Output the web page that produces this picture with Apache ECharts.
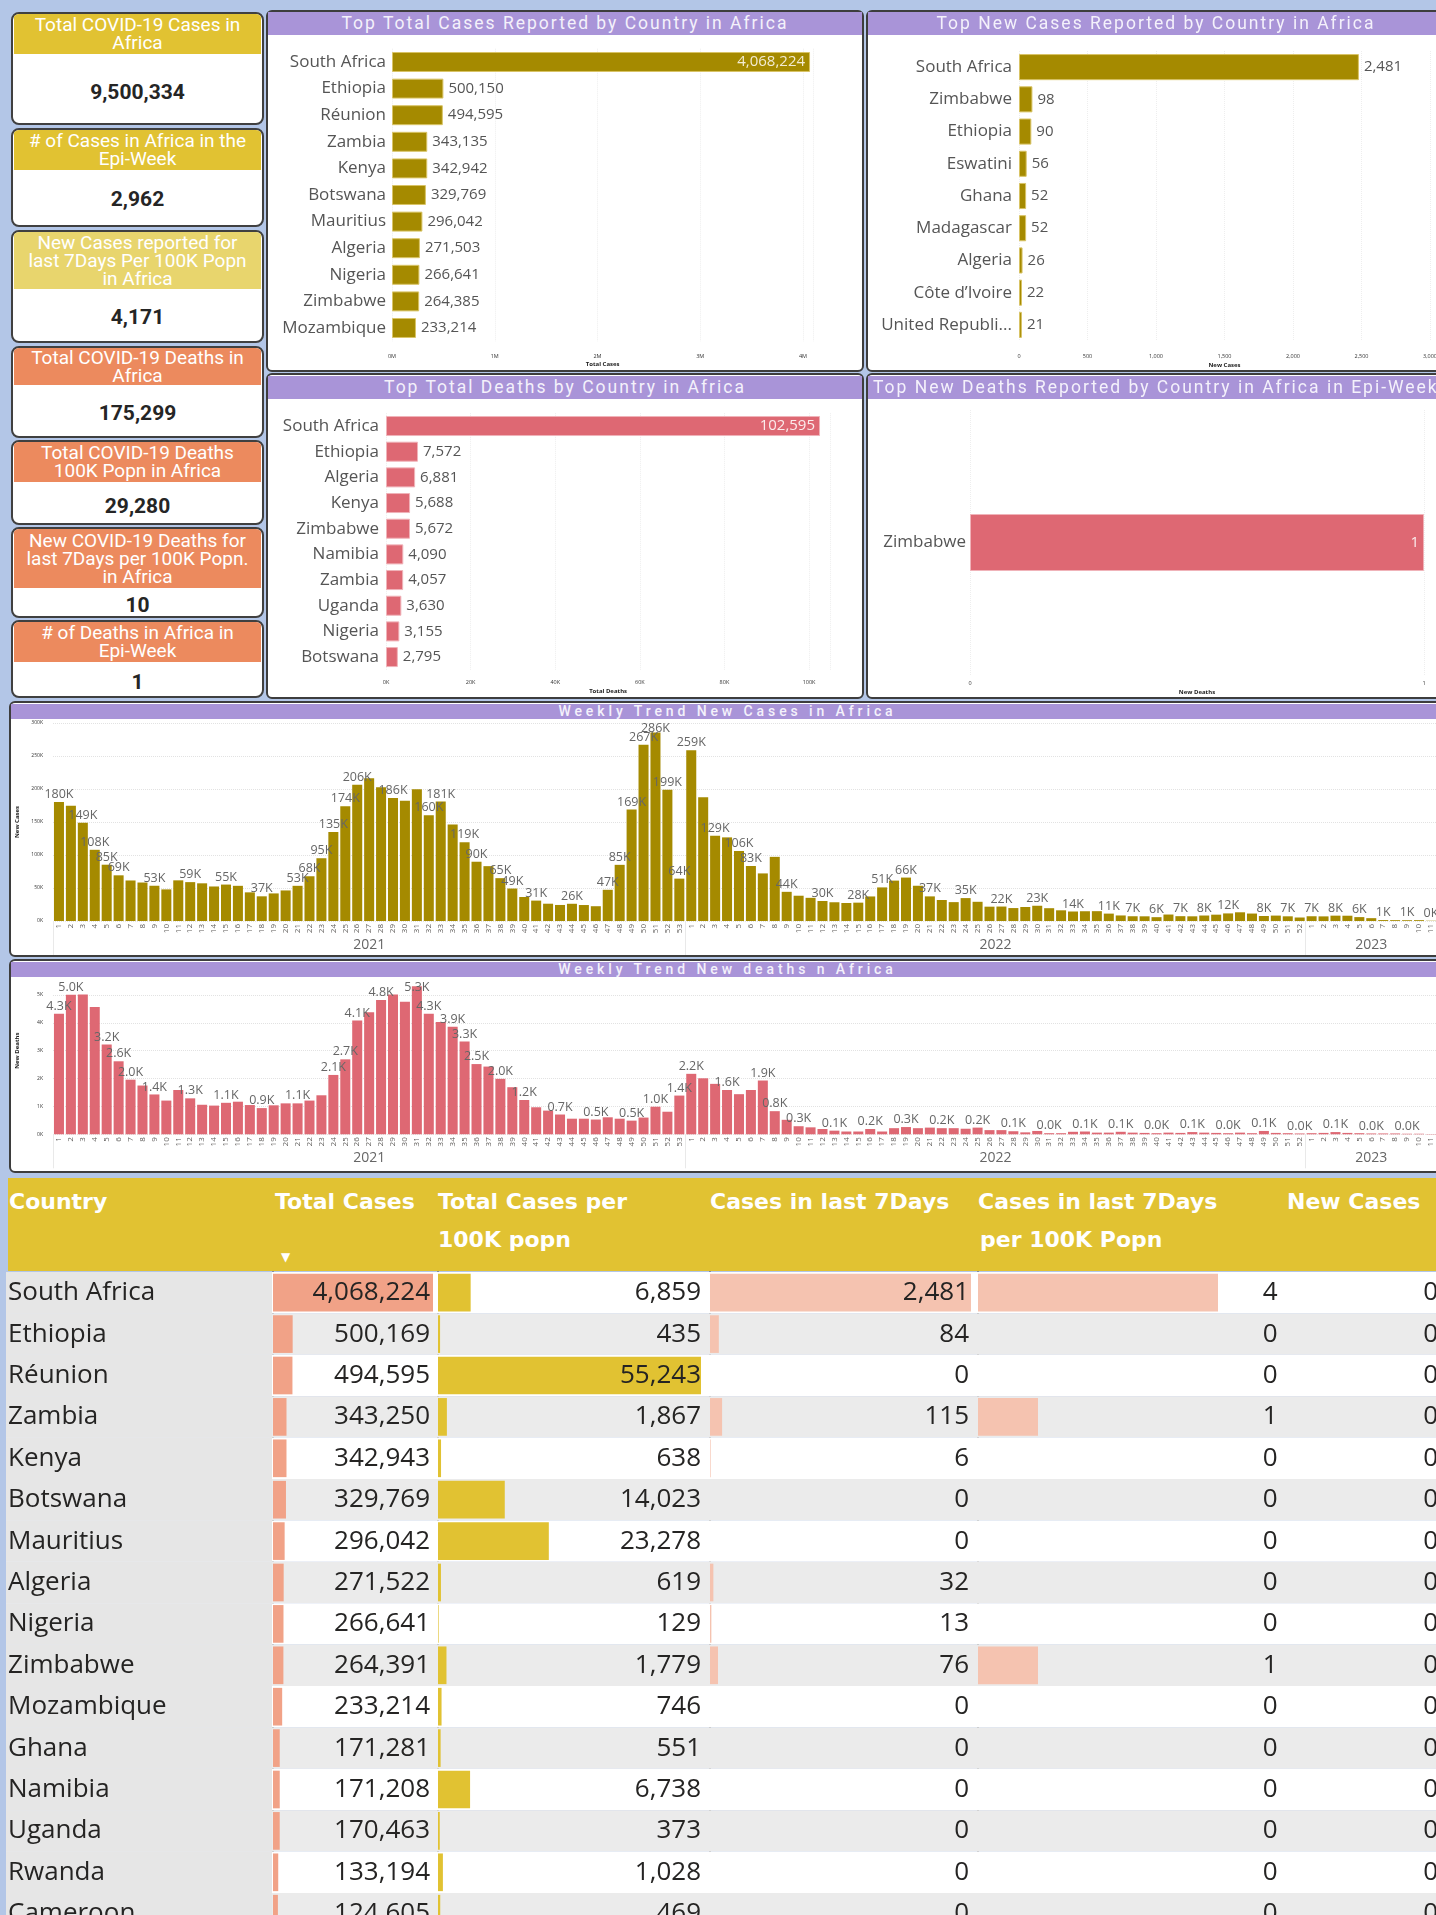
<!DOCTYPE html>
<html>
<head>
<meta charset="utf-8">
<script src="https://cdn.jsdelivr.net/npm/echarts@6.0.0/dist/echarts.min.js"></script>
<style>
  html, body { margin:0; padding:0; }
  body { width:1436px; height:1915px; overflow:hidden; background:#b3c6e7; position:relative; font-family:'Open Sans', sans-serif; }
  .panel { position:absolute; background:#fff; border:2px solid #3d3d3d; border-radius:6px; box-sizing:border-box; z-index:1; }
  .tbar { position:absolute; background:#a994d8; color:#f4f1fb; text-align:center; white-space:nowrap; overflow:hidden; z-index:6; font-family:Roboto, sans-serif; }
  .card { position:absolute; left:11px; width:253px; background:#fff; border:2px solid #404040; border-radius:8px; box-sizing:border-box; overflow:hidden; z-index:1; }
  .card .hd { position:absolute; left:1px; right:1px; top:0; display:flex; align-items:center; justify-content:center; text-align:center; color:#fff; font-family:Roboto, sans-serif; font-size:19px; line-height:18px; }
  .card .val { position:absolute; left:0; right:0; text-align:center; font-family:Roboto, sans-serif; font-weight:bold; font-size:21px; color:#252525; line-height:24px; }
  #chart { position:absolute; left:0; top:0; width:1450px; height:1915px; z-index:3; }
  #thead { position:absolute; left:8px; top:1178px; width:1440px; height:93px; background:#e1c232; z-index:6; }
  #thead span { position:absolute; color:#fff; font-family:'DejaVu Sans', sans-serif; font-weight:bold; font-size:22px; white-space:nowrap; line-height:26px; }
</style>
</head>
<body>
<div class="panel" style="left:266px;top:10px;width:598px;height:362px"></div>
<div class="panel" style="left:866px;top:10px;width:590px;height:362px"></div>
<div class="panel" style="left:266px;top:373px;width:598px;height:326px"></div>
<div class="panel" style="left:866px;top:373px;width:590px;height:326px"></div>
<div class="panel" style="left:9px;top:701px;width:1450px;height:256px"></div>
<div class="panel" style="left:9px;top:959px;width:1450px;height:214px"></div>

<div class="tbar" style="left:268px;top:12px;width:594px;height:23px;line-height:23px;font-size:17.5px;letter-spacing:2px">Top Total Cases Reported by Country in Africa</div>
<div class="tbar" style="left:868px;top:12px;width:576px;height:23px;line-height:23px;font-size:17.5px;letter-spacing:2px">Top New Cases Reported by Country in Africa</div>
<div class="tbar" style="left:268px;top:376px;width:594px;height:23px;line-height:23px;font-size:17.5px;letter-spacing:2px">Top Total Deaths by Country in Africa</div>
<div class="tbar" style="left:868px;top:376px;width:576px;height:23px;line-height:23px;font-size:17.5px;letter-spacing:2px;text-align:left;padding-left:5px;box-sizing:border-box">Top New Deaths Reported by Country in Africa in Epi-Week</div>
<div class="tbar" style="left:11px;top:704px;width:1433px;height:15px;line-height:15px;font-size:14px;font-weight:500;letter-spacing:3.9px">Weekly Trend New Cases in Africa</div>
<div class="tbar" style="left:11px;top:962px;width:1433px;height:15px;line-height:15px;font-size:14px;font-weight:500;letter-spacing:3.9px">Weekly Trend New deaths n Africa</div>

<div id="thead">
  <span style="left:1px;top:11px">Country</span>
  <span style="left:267px;top:11px">Total Cases</span>
  <span style="left:430px;top:11px">Total Cases per</span>
  <span style="left:430px;top:49px">100K popn</span>
  <span style="left:702px;top:11px">Cases in last 7Days</span>
  <span style="left:970px;top:11px">Cases in last 7Days</span>
  <span style="left:972px;top:49px">per 100K Popn</span>
  <span style="left:1279px;top:11px">New Cases</span>
  <span style="left:273px;top:72px;font-size:12px;line-height:14px">&#9660;</span>
</div>

<div id="chart"></div>

<script>
// ---------------- DATA ----------------
const kpiTitles = [
  'Total COVID-19 Cases in|Africa',
  '# of Cases in Africa in the|Epi-Week',
  'New Cases reported for|last 7Days Per 100K Popn|in Africa',
  'Total COVID-19 Deaths in|Africa',
  'Total COVID-19 Deaths|100K Popn in Africa',
  'New COVID-19 Deaths for|last 7Days per 100K Popn.|in Africa',
  '# of Deaths in Africa in|Epi-Week'
];
const kpiValues = [9500334, 2962, 4171, 175299, 29280, 10, 1];

const tcCountries = ['South Africa','Ethiopia','Réunion','Zambia','Kenya','Botswana','Mauritius','Algeria','Nigeria','Zimbabwe','Mozambique'];
const tcValues = [4068224, 500150, 494595, 343135, 342942, 329769, 296042, 271503, 266641, 264385, 233214];

const ncCountries = ['South Africa','Zimbabwe','Ethiopia','Eswatini','Ghana','Madagascar','Algeria','Côte d’Ivoire','United Republic of Tanzania'];
const ncValues = [2481, 98, 90, 56, 52, 52, 26, 22, 21];

const tdCountries = ['South Africa','Ethiopia','Algeria','Kenya','Zimbabwe','Namibia','Zambia','Uganda','Nigeria','Botswana'];
const tdValues = [102595, 7572, 6881, 5688, 5672, 4090, 4057, 3630, 3155, 2795];

const ndCountries = ['Zimbabwe'];
const ndValues = [1];

const weekYears = [2021, 2022, 2023];
const weekCounts = [53, 52, 11];

const weeklyCases2021 = [180200,174500,148900,107900,85300,69200,61400,58300,53400,47900,
  61600,58900,57100,52300,55200,53300,43400,37400,41800,46300,
  53300,67800,95100,134800,173900,206300,216400,202500,186200,182300,
  199500,160400,180900,146200,119300,89800,83100,64900,49200,36400,
  30900,26200,24300,26100,24200,22400,47300,85100,168800,266900,
  285700,198800,64200];
const weeklyCases2022 = [258900,187400,129200,126700,106100,83300,72100,97200,44200,38300,
  35100,30300,28400,27300,27800,37200,50900,61200,65800,53400,
  37300,31800,28600,34700,29100,21700,21900,19600,21200,23100,
  19400,16200,14400,14800,14900,11200,8400,7200,7100,5800,
  9800,7300,7100,8300,9600,11500,13200,11300,7600,8200,
  7100,5300];
const weeklyCases2023 = [7200,7000,8100,8000,5900,4300,1400,1300,1200,1300,400];

const weeklyDeaths2021 = [4330,5010,5020,4570,3220,2620,1960,1750,1430,1210,
  1590,1290,1060,1030,1130,1170,1050,940,1040,1110,
  1110,1210,1400,2130,2690,4080,4380,4820,5020,4760,
  5310,4330,4030,3860,3330,2520,2430,1990,1690,1230,
  970,850,710,560,560,530,610,560,490,600,
  990,810,1390];
const weeklyDeaths2022 = [2170,2010,1810,1590,1440,1590,1930,830,520,290,
  250,190,130,100,100,190,100,220,260,220,
  240,220,220,200,240,150,150,110,70,120,
  40,40,90,100,60,60,90,60,50,40,
  60,50,80,60,50,40,60,40,120,50,
  40,30];
const weeklyDeaths2023 = [40,50,80,50,40,30,30,30,20,20,10];

// weeks (per year) whose data label is shown
const casesLabelWeeks = [
  [1,3,4,5,6,9,12,15,18,21,22,23,24,25,26,29,32,33,35,36,38,39,41,44,47,48,49,50,51,52,53],
  [1,3,5,6,9,12,15,17,19,21,24,27,30,33,36,38,40,42,44,46,49,51],
  [1,3,5,7,9,11]
];
const deathsLabelWeeks = [
  [1,2,5,6,7,9,12,15,18,21,24,25,26,28,31,32,34,35,36,38,40,43,46,49,51,53],
  [1,4,7,8,10,13,16,19,22,25,28,31,34,37,40,43,46,49,52],
  [3,6,9]
];

const tblCountries = ['South Africa','Ethiopia','Réunion','Zambia','Kenya','Botswana','Mauritius','Algeria','Nigeria','Zimbabwe','Mozambique','Ghana','Namibia','Uganda','Rwanda','Cameroon'];
const tblTotalCases = [4068224,500169,494595,343250,342943,329769,296042,271522,266641,264391,233214,171281,171208,170463,133194,124605];
const tblCasesPer100K = [6859,435,55243,1867,638,14023,23278,619,129,1779,746,551,6738,373,1028,469];
const tblCases7d = [2481,84,0,115,6,0,0,32,13,76,0,0,0,0,0,0];
const tblCases7dPer100K = [4,0,0,1,0,0,0,0,0,1,0,0,0,0,0,0];
const tblNewCases = [0,0,0,0,0,0,0,0,0,0,0,0,0,0,0,0];

// ---------------- LAYOUT / STYLE ----------------
const fmt = v => Number(v).toLocaleString('en-US');
const kpiLayout = [ // top, bottom, header bottom, value centre, colour
  [12,125,54,92,'#e1c232'],
  [128,227,170,199,'#e1c232'],
  [230,343,289,317,'#e8d56d'],
  [346,438,385,413,'#ec8a5e'],
  [440,525,482,506,'#ec8a5e'],
  [527,618,588,605,'#ec8a5e'],
  [620,698,662,682,'#ec8a5e']
];
kpiTitles.forEach((t, i) => {
  const [top, bottom, hb, vc, color] = kpiLayout[i];
  const d = document.createElement('div');
  d.className = 'card';
  d.style.top = top + 'px';
  d.style.height = (bottom - top) + 'px';
  d.innerHTML = '<div class="hd" style="height:' + (hb - top - 2) + 'px;background:' + color + '">' +
    t.split('|').join('<br>') + '</div><div class="val" style="top:' + (vc - top - 2 - 12) + 'px">' +
    fmt(kpiValues[i]) + '</div>';
  document.body.appendChild(d);
});

const grids = [], xAxes = [], yAxes = [], series = [];
function addGrid(g) { grids.push(Object.assign({ outerBoundsMode: 'none', containLabel: false }, g)); return grids.length - 1; }

function topBar(c) {
  const gi = addGrid(c.grid);
  xAxes.push({ type: 'value', gridIndex: gi, min: 0, max: c.max, interval: c.interval,
    axisLine: { show: false }, axisTick: { show: false },
    splitLine: { show: true, lineStyle: { color: '#eeeeee', type: 'dotted' } },
    axisLabel: { fontSize: 5.5, color: '#333', margin: c.labelMargin, formatter: c.tickFmt, showMaxLabel: c.showMax },
    name: c.axisName, nameLocation: 'middle', nameGap: c.nameGap, nameMoveOverlap: false,
    nameTextStyle: { fontSize: 6, fontWeight: 'bold', color: '#222' } });
  yAxes.push({ type: 'category', gridIndex: gi, data: c.cats, inverse: true,
    axisLine: { show: false }, axisTick: { show: false }, splitLine: { show: false },
    axisLabel: Object.assign({ fontSize: 17, color: '#555', margin: c.catMargin },
      c.catWidth ? { width: c.catWidth, overflow: 'truncate', ellipsis: '...' } : {}) });
  series.push({ type: 'bar', xAxisIndex: xAxes.length - 1, yAxisIndex: yAxes.length - 1,
    barCategoryGap: c.gap, barWidth: c.barWidth,
    data: c.values.map((v, i) => (i === 0 && c.insideFirst) ? { value: v, label: { position: 'insideRight', color: c.insideColor } } : v),
    itemStyle: { color: c.color, borderColor: c.border, borderWidth: 1 },
    label: { show: true, position: 'right', distance: 5, fontSize: 15, color: '#555', formatter: p => fmt(p.value) } });
}

topBar({ grid: { left: 392, top: 48.7, width: 421.3, height: 292.6 }, max: 4100000, interval: 1000000,
  labelMargin: 12, tickFmt: v => (v / 1e6) + 'M', showMax: false, axisName: 'Total Cases', nameGap: 20,
  cats: tcCountries, values: tcValues, catMargin: 6, gap: '25%', color: '#a58a00', border: '#d9c466',
  insideFirst: true, insideColor: '#f3ecd2' });
topBar({ grid: { left: 1019, top: 51, width: 411, height: 290 }, max: 3000, interval: 500,
  labelMargin: 12, tickFmt: v => fmt(v), showMax: true, axisName: 'New Cases', nameGap: 21,
  cats: ncCountries, values: ncValues, catMargin: 7, catWidth: 136, gap: '19%', color: '#a58a00', border: '#d9c466',
  insideFirst: false });
topBar({ grid: { left: 386, top: 413.2, width: 444.2, height: 256.7 }, max: 105000, interval: 20000,
  labelMargin: 10, tickFmt: v => (v / 1000) + 'K', showMax: false, axisName: 'Total Deaths', nameGap: 18,
  cats: tdCountries, values: tdValues, catMargin: 7, gap: '22%', color: '#de6873', border: '#f0b3b9',
  insideFirst: true, insideColor: '#fbecec' });
topBar({ grid: { left: 970, top: 410, width: 454, height: 265 }, max: 1, interval: 1,
  labelMargin: 5, tickFmt: v => String(v), showMax: true, axisName: 'New Deaths', nameGap: 14,
  cats: ndCountries, values: ndValues, catMargin: 4, barWidth: 57, color: '#de6873', border: '#f0b3b9',
  insideFirst: true, insideColor: '#fbecec' });

// weekly categories
const weekCats = [];
const yearStart = new Set();
const yearMid = new Map();
weekYears.forEach((y, k) => {
  yearStart.add(weekCats.length);
  yearMid.set(weekCats.length + Math.floor((weekCounts[k] - 1) / 2), { year: y, even: weekCounts[k] % 2 === 0 });
  for (let w = 1; w <= weekCounts[k]; w++) weekCats.push(y + '-' + w);
});
function labelSet(lists) {
  const s = new Set(); let off = 0;
  lists.forEach((l, k) => { l.forEach(w => s.add(off + w - 1)); off += weekCounts[k]; });
  return s;
}

function weekly(c) {
  const gi = addGrid(c.grid);
  xAxes.push({ type: 'category', gridIndex: gi, data: weekCats, position: 'bottom',
    axisLine: { show: false }, axisTick: { show: false }, splitLine: { show: false },
    axisLabel: { interval: 0, rotate: 90, fontSize: 8, color: '#605e5c', margin: 3, formatter: v => v.split('-')[1] } });
  const xi = xAxes.length - 1;
  xAxes.push({ type: 'category', gridIndex: gi, data: weekCats, position: 'bottom',
    axisLine: { show: false }, splitLine: { show: false },
    axisTick: { show: true, interval: i => yearStart.has(i), length: 34, lineStyle: { color: '#e9e9e9' } },
    axisLabel: { interval: i => yearMid.has(i), margin: 17, fontSize: 14, color: '#666',
      formatter: (v, i) => { const m = yearMid.get(i); if (!m) return ''; return m.even ? '{e|' + m.year + '}' : String(m.year); },
      rich: { e: { padding: [0, 0, 0, 12], fontSize: 14, color: '#666' } } } });
  yAxes.push({ type: 'value', gridIndex: gi, min: 0, max: c.max, interval: c.interval,
    axisLine: { show: false }, axisTick: { show: false },
    splitLine: { lineStyle: { color: '#e2e2e2', type: 'dotted' } },
    axisLabel: { fontSize: 5, color: '#333', margin: 10, formatter: v => (v / 1000) + 'K' },
    name: c.name, nameLocation: 'middle', nameGap: 33, nameMoveOverlap: false,
    nameTextStyle: { fontSize: 6, fontWeight: 'bold', color: '#222' } });
  const lab = labelSet(c.labels);
  const minY = c.labelMinY;
  series.push({ type: 'bar', xAxisIndex: xi, yAxisIndex: yAxes.length - 1, barCategoryGap: '16%',
    data: c.values.map((v, i) => ({ value: v, label: { show: lab.has(i) } })),
    itemStyle: { color: c.color },
    labelLayout: p => (p.labelRect && p.labelRect.y < minY) ? { dy: minY - p.labelRect.y } : {},
    label: { show: false, position: 'top', distance: 1, fontSize: 12.5, color: '#666', formatter: c.labelFmt } });
}
const bandW = 11.93;
weekly({ grid: { left: 53, top: 723, width: bandW * weekCats.length, height: 198 }, max: 300000, interval: 50000,
  name: 'New Cases', values: weeklyCases2021.concat(weeklyCases2022, weeklyCases2023), labels: casesLabelWeeks,
  color: '#a58a00', labelFmt: p => Math.round(p.value / 1000) + 'K', labelMinY: 722 });
weekly({ grid: { left: 53, top: 967.1, width: bandW * weekCats.length, height: 167.2 }, max: 6000, interval: 1000,
  name: 'New Deaths', values: weeklyDeaths2021.concat(weeklyDeaths2022, weeklyDeaths2023), labels: deathsLabelWeeks,
  color: '#de6873', labelFmt: p => (p.value / 1000).toFixed(1) + 'K', labelMinY: 981 });

// ---------------- TABLE ----------------
const rowTop = 1272, rowH = 41.4, tH = rowH * tblCountries.length;
function tblAxes(gi, opts) {
  xAxes.push({ type: 'value', gridIndex: gi, min: 0, max: opts.max, show: false });
  yAxes.push(Object.assign({ type: 'category', gridIndex: gi, data: tblCountries, inverse: true,
    axisTick: { show: false }, axisLabel: { show: false }, splitLine: { show: false } }, opts.y || { show: false }));
  return [xAxes.length - 1, yAxes.length - 1];
}
let gi = addGrid({ left: 6, top: rowTop, width: 1444, height: tH });
let ax = tblAxes(gi, { max: 1 });
series.push({ type: 'bar', xAxisIndex: ax[0], yAxisIndex: ax[1], barWidth: '100%', silent: true,
  data: tblCountries.map((c, i) => ({ value: 1, itemStyle: { color: i % 2 ? '#ebebeb' : '#ffffff' } })) });
gi = addGrid({ left: 6, top: rowTop, width: 266, height: tH });
ax = tblAxes(gi, { max: 1 });
series.push({ type: 'bar', xAxisIndex: ax[0], yAxisIndex: ax[1], barWidth: '100%', silent: true,
  data: tblCountries.map(() => 1), itemStyle: { color: '#e6e6e6' },
  label: { show: true, position: 'insideLeft', distance: 2, formatter: p => p.name, fontSize: 26, color: '#252423' } });

const tblCols = [
  { vals: tblTotalCases, left: 273, width: 163, barMax: 160, color: '#f1a287', dist: 6, line: true },
  { vals: tblCasesPer100K, left: 438, width: 270, barMax: 263, color: '#e1c232', dist: 7, line: true },
  { vals: tblCases7d, left: 710, width: 266, barMax: 261, color: '#f5c3b0', dist: 7, line: true },
  { vals: tblCases7dPer100K, left: 978, width: 384, barMax: 240, color: '#f5c3b0', pos: ['78%', '50%'], line: true },
  { vals: tblNewCases, left: 1364, width: 82, barMax: 74, color: '#f5c3b0', dist: 8, line: false }
];
tblCols.forEach(c => {
  const vmax = Math.max(1, ...c.vals);
  const axMax = vmax * c.width / c.barMax;
  const g = addGrid({ left: c.left, top: rowTop, width: c.width, height: tH });
  const a = tblAxes(g, { max: axMax, y: c.line ? { show: true, position: 'right', axisLine: { show: true, lineStyle: { color: '#3a3a3a', width: 1.5 } } } : { show: false } });
  series.push({ type: 'bar', xAxisIndex: a[0], yAxisIndex: a[1], barCategoryGap: '9%', silent: true,
    data: c.vals, itemStyle: { color: c.color } });
  series.push({ type: 'bar', xAxisIndex: a[0], yAxisIndex: a[1], barCategoryGap: '9%', barGap: '-100%', silent: true,
    data: c.vals.map(() => axMax), itemStyle: { color: 'rgba(0,0,0,0)' },
    label: Object.assign({ show: true, fontSize: 26, color: '#252423', formatter: p => fmt(c.vals[p.dataIndex]) },
      c.pos ? { position: c.pos, align: 'right', verticalAlign: 'middle' } : { position: 'insideRight', distance: c.dist }) });
});

const chart = echarts.init(document.getElementById('chart'), null, { renderer: 'canvas' });
chart.setOption({
  animation: false,
  backgroundColor: 'transparent',
  textStyle: { fontFamily: "'Open Sans', sans-serif" },
  grid: grids, xAxis: xAxes, yAxis: yAxes, series: series
});
</script>
</body>
</html>
